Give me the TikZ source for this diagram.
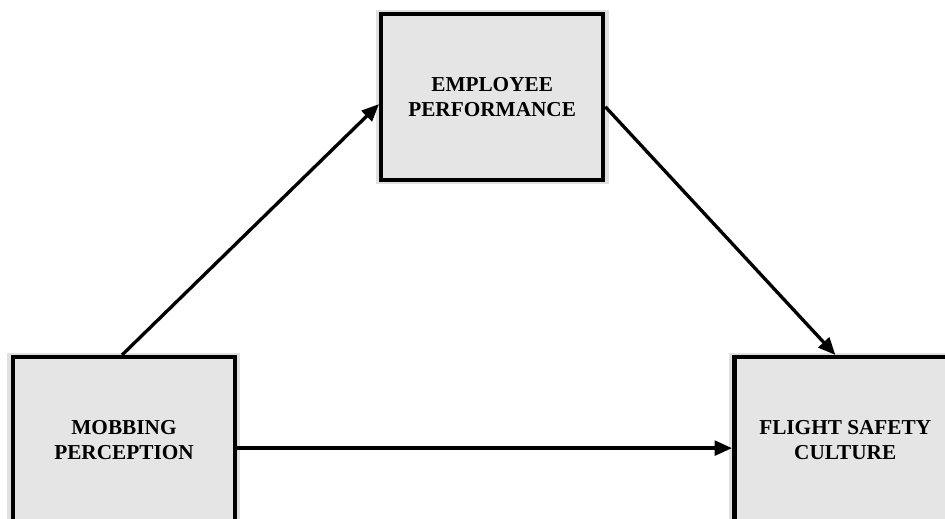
\documentclass[tikz,border=0pt]{standalone}
\usepackage{fontspec}
\setmainfont{Liberation Serif}
\usepackage{tikz}
\usetikzlibrary{arrows.meta,positioning,shadows}

\begin{document}
\begin{tikzpicture}[
    box/.style={draw, line width=3.4pt, fill=black!10, minimum width=5.87cm, minimum height=4.39cm,
        align=center, font=\fontsize{16}{19}\selectfont\bfseries,
        general shadow={fill=black!12, shadow scale=1.05}},
    link/.style={line width=2.5pt, -{Triangle[length=13pt, width=11pt]}}
]
    % Page frame
    \useasboundingbox (0,0) rectangle (25,13.705);

    % Variables
    \node[box] (emp) at (13.02,11.14) {EMPLOYEE\\PERFORMANCE};
    \node[box] (mob) at (3.28,2.06) {MOBBING\\PERCEPTION};
    \node[box] (fsc) at (22.36,2.06) {FLIGHT SAFETY\\CULTURE};

    % Paths
    \draw[link] ([xshift=-0.05cm]mob.north) -- ([yshift=-0.19cm]emp.west);
    \draw[link] ([yshift=-0.26cm]emp.east) -- ([xshift=-0.26cm]fsc.north);
    \draw[link] ([yshift=-0.21cm]mob.east) -- ([yshift=-0.21cm]fsc.west);
\end{tikzpicture}
\end{document}
